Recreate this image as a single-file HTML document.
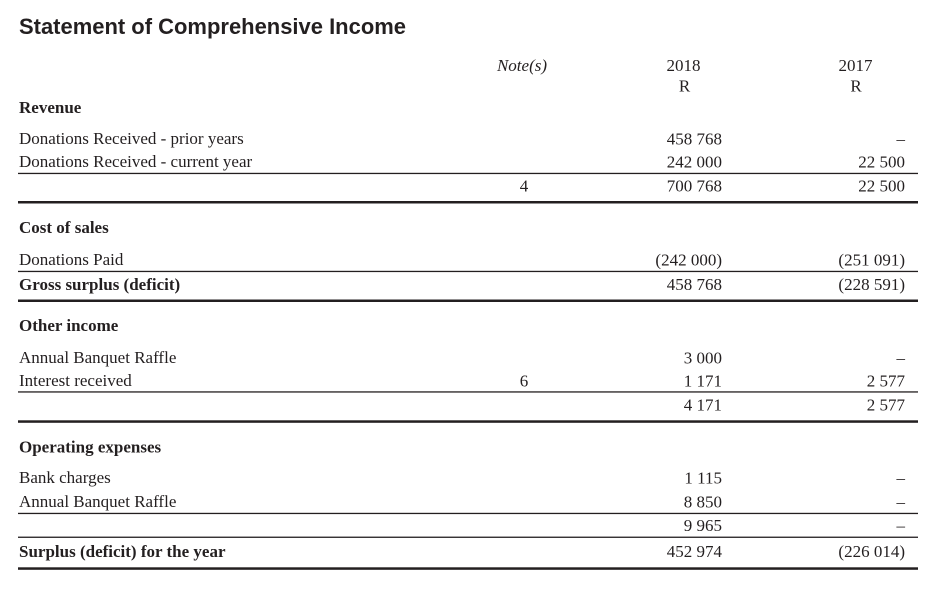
<!DOCTYPE html>
<html><head><meta charset="utf-8"><style>
html,body{margin:0;padding:0;background:#fff;}
svg{display:block;}
.s{font-family:"Liberation Serif",serif;font-size:17px;fill:#231f20;}
.b{font-weight:bold;}
.r{text-anchor:end;}
.m{text-anchor:middle;}
</style></head><body>
<svg width="947" height="597" viewBox="0 0 947 597" xmlns="http://www.w3.org/2000/svg">
<rect width="947" height="597" fill="#fff"/>
<text x="19" y="34" font-family="Liberation Sans, sans-serif" font-weight="bold" font-size="22" fill="#231f20" textLength="387" lengthAdjust="spacingAndGlyphs">Statement of Comprehensive Income</text>

<text class="s m" x="522" y="71" font-style="italic">Note(s)</text>
<text class="s m" x="683.5" y="71">2018</text>
<text class="s m" x="855.5" y="71">2017</text>
<text class="s m" x="684.5" y="91.5">R</text>
<text class="s m" x="856" y="91.5">R</text>

<text class="s b" x="19" y="113">Revenue</text>
<text class="s" x="19" y="144">Donations Received - prior years</text>
<text class="s r" x="722" y="144.5">458 768</text>
<text class="s r" x="905" y="144.5">–</text>
<text class="s" x="19" y="167">Donations Received - current year</text>
<text class="s r" x="722" y="167.5">242 000</text>
<text class="s r" x="905" y="167.5">22 500</text>
<rect x="18" y="172.8" width="900" height="1.3" fill="#231f20"/>
<text class="s m" x="524" y="191.5">4</text>
<text class="s r" x="722" y="191.5">700 768</text>
<text class="s r" x="905" y="191.5">22 500</text>
<rect x="18" y="201" width="900" height="2.5" fill="#231f20"/>

<text class="s b" x="19" y="233">Cost of sales</text>
<text class="s" x="19" y="265">Donations Paid</text>
<text class="s r" x="722" y="265.5">(242 000)</text>
<text class="s r" x="905" y="265.5">(251 091)</text>
<rect x="18" y="270.8" width="900" height="1.3" fill="#231f20"/>
<text class="s b" x="19" y="290">Gross surplus (deficit)</text>
<text class="s r" x="722" y="290">458 768</text>
<text class="s r" x="905" y="290">(228 591)</text>
<rect x="18" y="299.5" width="900" height="2.5" fill="#231f20"/>

<text class="s b" x="19" y="331">Other income</text>
<text class="s" x="19" y="363">Annual Banquet Raffle</text>
<text class="s r" x="722" y="363.5">3 000</text>
<text class="s r" x="905" y="363.5">–</text>
<text class="s" x="19" y="386">Interest received</text>
<text class="s m" x="524" y="386.5">6</text>
<text class="s r" x="722" y="386.5">1 171</text>
<text class="s r" x="905" y="386.5">2 577</text>
<rect x="18" y="391.3" width="900" height="1.3" fill="#231f20"/>
<text class="s r" x="722" y="410.5">4 171</text>
<text class="s r" x="905" y="410.5">2 577</text>
<rect x="18" y="420.3" width="900" height="2.5" fill="#231f20"/>

<text class="s b" x="19" y="452.5">Operating expenses</text>
<text class="s" x="19" y="483">Bank charges</text>
<text class="s r" x="722" y="483.5">1 115</text>
<text class="s r" x="905" y="483.5">–</text>
<text class="s" x="19" y="507">Annual Banquet Raffle</text>
<text class="s r" x="722" y="507.5">8 850</text>
<text class="s r" x="905" y="507.5">–</text>
<rect x="18" y="512.8" width="900" height="1.3" fill="#231f20"/>
<text class="s r" x="722" y="531">9 965</text>
<text class="s r" x="905" y="531">–</text>
<rect x="18" y="536.6" width="900" height="1.3" fill="#231f20"/>
<text class="s b" x="19" y="557">Surplus (deficit) for the year</text>
<text class="s r" x="722" y="557">452 974</text>
<text class="s r" x="905" y="557">(226 014)</text>
<rect x="18" y="567.3" width="900" height="2.5" fill="#231f20"/>
</svg>
</body></html>
